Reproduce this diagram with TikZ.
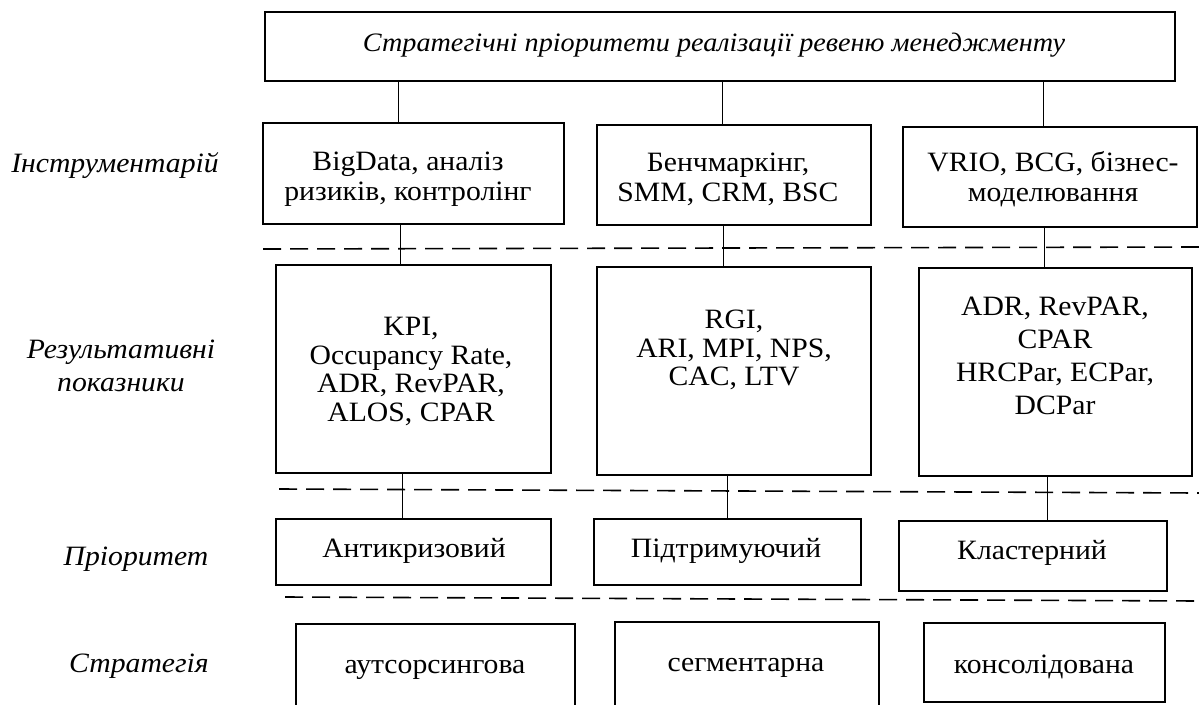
\documentclass[tikz,border=0pt]{standalone}
\usepackage{fontspec}
\setmainfont{Liberation Serif}[FakeStretch=1.06]
\begin{document}
\begin{tikzpicture}[x=1pt,y=-1pt,
  box/.style={draw, line width=2pt, inner sep=0pt},
  txt/.style={align=center, font=\fontsize{28}{28.5}\selectfont, inner sep=0pt},
  lbl/.style={align=center, font=\fontsize{28}{33}\selectfont\itshape, inner sep=0pt},
  conn/.style={line width=1pt},
  sep/.style={line width=1.6pt, dash pattern=on 18pt off 9pt}]
\useasboundingbox (0,0) rectangle (1199,704);
\clip (0,0) rectangle (1199,704);
% top
\node[box, minimum width=910pt, minimum height=69pt] (T) at (720,46.5) {};
\node[txt, font=\fontsize{26.6}{28}\selectfont\itshape] (Tt) at (714,45) {Стратегічні пріоритети реалізації ревеню менеджменту};
% row 1
\node[box, minimum width=301pt, minimum height=101pt] (A1) at (413.5,173.5) {};
\node[box, minimum width=274pt, minimum height=100pt] (A2) at (734,175) {};
\node[box, minimum width=294pt, minimum height=100pt] (A3) at (1050,177) {};
\node[txt, font=\fontsize{28}{30}\selectfont] (A1t) at (408,179) {BigData, аналіз\\ризиків, контролінг};
\node[txt, font=\fontsize{28}{30}\selectfont] (A2t) at (728,179) {Бенчмаркінг,\\SMM, CRM, BSC};
\node[txt, font=\fontsize{28}{30}\selectfont] (A3t) at (1053,179) {VRIO, BCG, бізнес-\\моделювання};
% row 2
\node[box, minimum width=275pt, minimum height=208pt] (B1) at (413.5,369) {};
\node[box, minimum width=274pt, minimum height=208pt] (B2) at (734,371) {};
\node[box, minimum width=273pt, minimum height=208pt] (B3) at (1055.5,372) {};
\node[txt] (B1t) at (411,371.5) {KPI,\\Occupancy Rate,\\ADR, RevPAR,\\ALOS, CPAR};
\node[txt] (B2t) at (734,350) {RGI,\\ARI, MPI, NPS,\\CAC, LTV};
\node[txt, font=\fontsize{28}{33}\selectfont] (B3t) at (1055,356) {ADR, RevPAR,\\CPAR\\HRCPar, ECPar,\\DCPar};
% row 3
\node[box, minimum width=275pt, minimum height=66pt] (C1) at (413.5,552) {};
\node[box, minimum width=267pt, minimum height=66pt] (C2) at (727.5,552) {};
\node[box, minimum width=268pt, minimum height=70pt] (C3) at (1033,556) {};
\node[txt] (C1t) at (414,551) {Антикризовий};
\node[txt] (C2t) at (726,551) {Підтримуючий};
\node[txt] (C3t) at (1032,553) {Кластерний};
% row 4
\node[box, minimum width=279pt, minimum height=88pt] (S1) at (435.5,668) {};
\node[box, minimum width=264pt, minimum height=90pt] (S2) at (747,667) {};
\node[box, minimum width=241pt, minimum height=79pt] (S3) at (1044.5,662.5) {};
\node[txt] (S1t) at (435,670) {аутсорсингова};
\node[txt] (S2t) at (746,668) {сегментарна};
\node[txt] (S3t) at (1044,667) {консолідована};
% labels
\node[lbl] (L1) at (115,166) {Інструментарій};
\node[lbl] (L2) at (121,366) {Результативні\\показники};
\node[lbl] (L3) at (136,559) {Пріоритет};
\node[lbl] (L4) at (139,666) {Стратегія};
% connector x positions
\coordinate (x1) at (398,0);
\coordinate (x2) at (722,0);
\coordinate (x3) at (1043,0);
\coordinate (y1) at (400,0);
\coordinate (y2) at (723,0);
\coordinate (y3) at (1044,0);
\coordinate (z1) at (402,0);
\coordinate (z2) at (727,0);
\coordinate (z3) at (1047,0);
\draw[conn] (T.south -| x1) -- (A1.north -| x1);
\draw[conn] (T.south -| x2) -- (A2.north -| x2);
\draw[conn] (T.south -| x3) -- (A3.north -| x3);
\draw[conn] (A1.south -| y1) -- (B1.north -| y1);
\draw[conn] (A2.south -| y2) -- (B2.north -| y2);
\draw[conn] (A3.south -| y3) -- (B3.north -| y3);
\draw[conn] (B1.south -| z1) -- (C1.north -| z1);
\draw[conn] (B2.south -| z2) -- (C2.north -| z2);
\draw[conn] (B3.south -| z3) -- (C3.north -| z3);
% dashed separators
\coordinate (d1a) at (263,249); \coordinate (d1b) at (1199,247);
\coordinate (d2a) at (279,489); \coordinate (d2b) at (1199,493);
\coordinate (d3a) at (285,597); \coordinate (d3b) at (1199,601);
\draw[sep] (d1a) -- (d1b);
\draw[sep] (d2a) -- (d2b);
\draw[sep] (d3a) -- (d3b);
\end{tikzpicture}
\end{document}
